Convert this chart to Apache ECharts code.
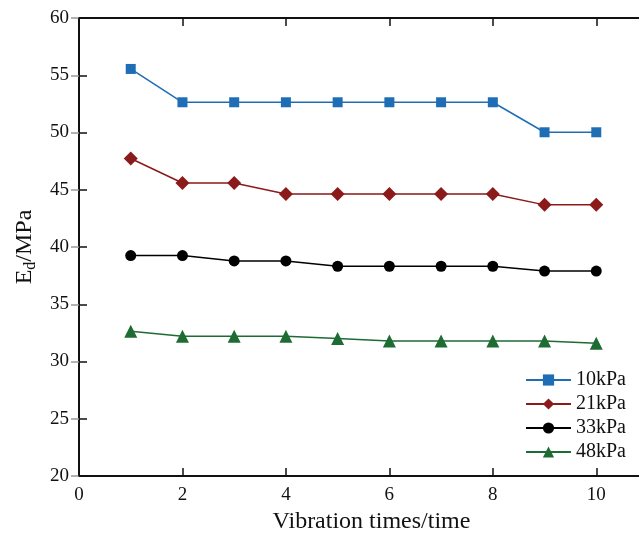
<!DOCTYPE html>
<html lang="en">

<head>
    <meta charset="UTF-8">
    <title>Ed vs vibration times</title>
</head>

<body style="margin:0;">
    <div id="main" style="width: 639px; height: 535px;"></div>

    <script src="https://cdn.jsdelivr.net/npm/echarts@6/dist/echarts.min.js"></script>
    <script>
        // data
        var times = [1, 2, 3, 4, 5, 6, 7, 8, 9, 10];
        var ed10 = [55.55, 52.64, 52.64, 52.64, 52.64, 52.64, 52.64, 52.64, 50.02, 50.02];
        var ed21 = [47.73, 45.59, 45.59, 44.62, 44.62, 44.62, 44.62, 44.62, 43.68, 43.68];
        var ed33 = [39.25, 39.25, 38.78, 38.78, 38.32, 38.32, 38.32, 38.32, 37.9, 37.9];
        var ed48 = [32.64, 32.21, 32.21, 32.21, 32.0, 31.78, 31.78, 31.78, 31.78, 31.6];
        var names = ['10kPa', '21kPa', '33kPa', '48kPa'];

        function pairs(arr) {
            return times.map(function (t, i) { return [t, arr[i]]; });
        }

        var font = 'Liberation Serif';
        var myChart = echarts.init(document.getElementById('main'));

        function line(name, arr, color, symbol, size) {
            return {
                name: name,
                type: 'line',
                data: pairs(arr),
                symbol: symbol,
                symbolSize: size,
                lineStyle: { color: color, width: 1.5 },
                itemStyle: { color: color },
                animation: false
            };
        }

        var option = {
            backgroundColor: '#fff',
            grid: { left: 79, top: 18, bottom: 59, right: -9, outerBoundsMode: 'none' },
            legend: {
                orient: 'vertical',
                right: 8,
                top: 365,
                itemGap: 4,
                itemWidth: 45,
                itemHeight: 14,
                data: names,
                textStyle: { fontFamily: font, fontSize: 20, color: '#111' }
            },
            xAxis: [{
                type: 'value',
                min: 0, max: 11, interval: 2,
                name: 'Vibration times/time',
                nameLocation: 'middle',
                nameGap: 30,
                nameTextStyle: { fontFamily: font, fontSize: 24, color: '#111', padding: [0, 0, 0, 16] },
                axisLine: { lineStyle: { color: '#111', width: 2 } },
                axisTick: { inside: true, length: 8, lineStyle: { color: '#111', width: 1.5 } },
                axisLabel: { fontFamily: font, fontSize: 19, color: '#111', margin: 10, showMaxLabel: false },
                splitLine: { show: false }
            }, {
                type: 'value',
                position: 'top',
                min: 0, max: 11, interval: 2,
                axisLine: { lineStyle: { color: '#111', width: 2 } },
                axisTick: { inside: true, length: 8, lineStyle: { color: '#111', width: 1.5 } },
                axisLabel: { show: false },
                splitLine: { show: false }
            }],
            yAxis: [{
                type: 'value',
                min: 20, max: 60, interval: 5,
                name: '{a|E}{b|d}{a|/MPa}',
                nameLocation: 'middle',
                nameRotate: 90,
                nameGap: 40,
                nameTextStyle: {
                    rich: {
                        a: { fontFamily: font, fontSize: 24, color: '#111', lineHeight: 28, verticalAlign: 'middle' },
                        b: { fontFamily: font, fontSize: 16, color: '#111', padding: [12, 0, 0, 0], verticalAlign: 'middle' }
                    }
                },
                axisLine: { lineStyle: { color: '#111', width: 2 } },
                axisTick: { inside: true, length: 8, lineStyle: { color: '#111', width: 1.5 } },
                axisLabel: { fontFamily: font, fontSize: 19, color: '#111', margin: 10 },
                splitLine: { show: false }
            }, {
                type: 'value',
                position: 'right',
                min: 20, max: 60, interval: 5,
                axisLine: { show: true, lineStyle: { color: '#111', width: 2 } },
                axisTick: { inside: true, length: 8, lineStyle: { color: '#999', width: 1.5 } },
                axisLabel: { show: false },
                splitLine: { show: false }
            }],
            series: [
                line(names[0], ed10, '#1f6db5', 'rect', 10),
                line(names[1], ed21, '#8b1a1a', 'diamond', 14),
                line(names[2], ed33, '#000000', 'circle', 11),
                line(names[3], ed48, '#1e6b34', 'triangle', 13)
            ]
        };
        myChart.setOption(option);
    </script>
</body>

</html>
